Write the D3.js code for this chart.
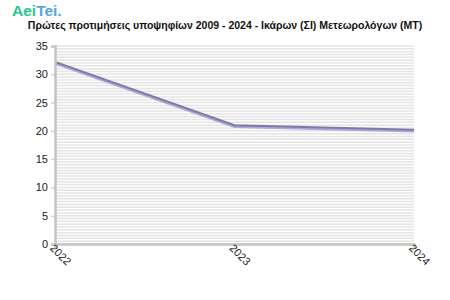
<!DOCTYPE html>
<html>
<head>
<meta charset="utf-8">
<script src="https://cdn.jsdelivr.net/npm/d3@7"></script>
<style>
  body { margin: 0; background: #fff; }
  svg { font-family: "Liberation Sans", Arial, sans-serif; }
</style>
</head>
<body>
<div id="chart"></div>
<script>
const years = ["2022", "2023", "2024"];
const values = [32.2, 21.0, 20.2];
const yTicks = [0, 5, 10, 15, 20, 25, 30, 35];

const width = 450;
const height = 300;
const margin = { top: 46, right: 36, bottom: 56, left: 55 };

const svg = d3.select("#chart")
  .append("svg")
  .attr("width", width)
  .attr("height", height);

// logo
const logo = svg.append("text")
  .attr("x", 12)
  .attr("y", 15.5)
  .style("font-size", "15.5px")
  .style("font-weight", "bold");
logo.append("tspan").attr("fill", "#27c98c").text("Aei");
logo.append("tspan").attr("fill", "#55a7e0").text("Tei.");

svg.append("text")
  .attr("x", width / 2)
  .attr("y", 28.5)
  .attr("text-anchor", "middle")
  .style("font-size", "10.5px")
  .style("font-weight", "bold")
  .attr("fill", "#111")
  .text("Πρώτες προτιμήσεις υποψηφίων 2009 - 2024 - Ικάρων (ΣΙ) Μετεωρολόγων (ΜΤ)");

const x = d3.scalePoint()
  .domain(years)
  .range([margin.left, width - margin.right]);

const y = d3.scaleLinear()
  .domain([0, 35])
  .range([height - margin.bottom, margin.top]);

// striped grid
svg.append("g")
  .selectAll("line")
  .data(d3.range(0, 35.01, 0.5))
  .enter()
  .append("line")
  .attr("x1", margin.left)
  .attr("x2", width - margin.right)
  .attr("y1", d => y(d))
  .attr("y2", d => y(d))
  .attr("stroke", "#e4e4e4")
  .attr("stroke-width", 1.5);

const line = d3.line()
  .x((d, i) => x(years[i]))
  .y(d => y(d));

// shadow
svg.append("path")
  .datum(values)
  .attr("d", line)
  .attr("transform", "translate(0,1.5)")
  .attr("fill", "none")
  .attr("stroke", "#a9a9d9")
  .attr("stroke-width", 2.5);

svg.append("path")
  .datum(values)
  .attr("d", line)
  .attr("fill", "none")
  .attr("stroke", "#7c7ca2")
  .attr("stroke-width", 2);

const yAxis = svg.append("g")
  .attr("transform", `translate(${margin.left},0)`)
  .call(d3.axisLeft(y).tickValues(yTicks).tickSize(4).tickPadding(3));

const xAxis = svg.append("g")
  .attr("transform", `translate(0,${height - margin.bottom})`)
  .call(d3.axisBottom(x).tickSize(4).tickPadding(2));

[yAxis, xAxis].forEach(g => {
  g.select(".domain").attr("stroke", "#c4c4c4").attr("stroke-width", 2.5);
  g.selectAll(".tick line").attr("stroke", "#c4c4c4");
  g.selectAll("text")
    .attr("fill", "#222")
    .style("font-size", "11px")
    .style("font-family", "'Liberation Sans', Arial, sans-serif");
});

xAxis.selectAll("text")
  .style("text-anchor", "start")
  .attr("dx", "-0.1em")
  .attr("dy", "0.35em")
  .attr("transform", "rotate(45)")
  .attr("y", 4)
  .attr("x", 0);
</script>
</body>
</html>
